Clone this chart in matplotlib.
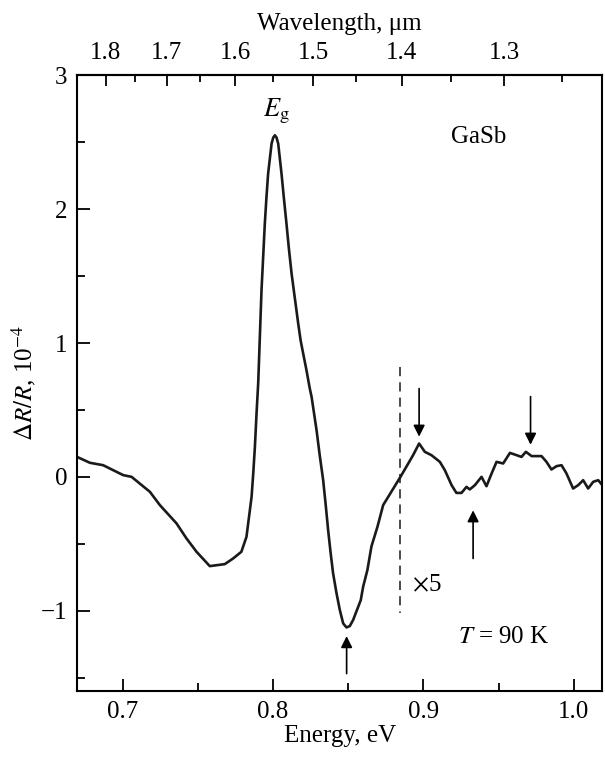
import matplotlib
matplotlib.use("Agg")
import matplotlib.pyplot as plt
from matplotlib.ticker import FixedLocator, MultipleLocator

plt.rcParams['font.family'] = ['Liberation Serif', 'DejaVu Serif']
plt.rcParams['mathtext.fontset'] = 'stix'

# photoreflectance spectrum
energy = [0.6705, 0.6783, 0.6871, 0.7004, 0.706, 0.7182, 0.7248, 0.7359, 0.7425,
          0.7492, 0.758, 0.768, 0.7735, 0.779, 0.7824, 0.7858, 0.7869, 0.7880,
          0.7891, 0.7902, 0.7924, 0.7935, 0.7946, 0.7957, 0.7968, 0.7991, 0.8002,
          0.8013, 0.8024, 0.8035, 0.8057, 0.8073, 0.809, 0.8106, 0.8124, 0.8146,
          0.8168, 0.8184, 0.8201, 0.8223, 0.8245, 0.8257, 0.829, 0.8311, 0.8334,
          0.8351, 0.8367, 0.8384, 0.84, 0.8423, 0.8445, 0.8467, 0.8489, 0.8511,
          0.8533, 0.8584, 0.86, 0.8628, 0.8655, 0.8695, 0.8733, 0.8794, 0.8848,
          0.8932, 0.8972, 0.901, 0.9054, 0.911, 0.9143, 0.9188, 0.922, 0.9254,
          0.9287, 0.9309, 0.9343, 0.9387, 0.942, 0.9454, 0.9487, 0.9531, 0.9576,
          0.962, 0.9653, 0.9682, 0.972, 0.9753, 0.9786, 0.9819, 0.9852, 0.9886,
          0.9919, 0.9952, 0.9996, 1.003, 1.0063, 1.0096, 1.013, 1.0163, 1.0196]
dR = [0.145, 0.105, 0.087, 0.013, 0.0, -0.112, -0.211, -0.348, -0.46,
      -0.56, -0.667, -0.652, -0.61, -0.56, -0.448, -0.149, 0.025, 0.224,
      0.474, 0.70, 1.394, 1.643, 1.892, 2.09, 2.266, 2.49, 2.535,
      2.552, 2.535, 2.49, 2.266, 2.08, 1.892, 1.706, 1.519, 1.332,
      1.146, 1.02, 0.922, 0.797, 0.66, 0.598, 0.349, 0.162, -0.025,
      -0.211, -0.398, -0.572, -0.721, -0.871, -0.996, -1.095, -1.125, -1.115,
      -1.07, -0.921, -0.82, -0.697, -0.52, -0.373, -0.211, -0.099, 0.0,
      0.162, 0.249, 0.187, 0.162, 0.112, 0.05, -0.062, -0.12, -0.12,
      -0.075, -0.094, -0.062, 0.0, -0.07, 0.025, 0.112, 0.1, 0.179,
      0.162, 0.149, 0.187, 0.155, 0.155, 0.155, 0.112, 0.055, 0.08,
      0.087, 0.025, -0.087, -0.062, -0.025, -0.087, -0.037, -0.025, -0.07]

# arrows: (energy, tail, tip)
arrows = [(0.849, -1.47, -1.19), (0.8972, 0.66, 0.30),
          (0.9331, -0.61, -0.25), (0.9713, 0.60, 0.24)]

wl_major = [1.8, 1.7, 1.6, 1.5, 1.4, 1.3]
wl_minor = [1.75, 1.65, 1.55, 1.45, 1.35, 1.25]

fs = 18

fig = plt.figure(figsize=(6.05, 7.61), dpi=100)
ax = fig.add_axes([0.128, 0.092, 0.867, 0.809])

ax.plot(energy, dR, color='#1a1a1a', lw=1.9, solid_joinstyle='round')
ax.plot([0.8848, 0.8848], [0.82, -1.02], color='#1a1a1a', lw=1.1, ls=(0, (6, 4)))

for e, y0, y1 in arrows:
    ax.annotate('', xy=(e, y1), xytext=(e, y0),
                arrowprops=dict(arrowstyle='-|>', color='black', lw=1.2,
                                mutation_scale=17, shrinkA=0, shrinkB=0))

ax.text(0.802, 2.69, r'$E_\mathrm{g}$', ha='center', va='baseline', fontsize=fs + 1)
ax.text(0.937, 2.54, 'GaSb', ha='center', va='center', fontsize=fs)
ax.text(0.8925, -0.81, r'$\times$5', ha='left', va='center', fontsize=fs)
ax.text(0.9535, -1.20, r'$T$ = 90 K', ha='center', va='center', fontsize=fs)

ax.set_xlim(0.67, 1.0188)
ax.set_ylim(-1.6, 3.0)
ax.xaxis.set_major_locator(FixedLocator([0.7, 0.8, 0.9, 1.0]))
ax.xaxis.set_minor_locator(MultipleLocator(0.05))
ax.yaxis.set_major_locator(MultipleLocator(1))
ax.yaxis.set_minor_locator(MultipleLocator(0.5))
ax.set_xticklabels(['0.7', '0.8', '0.9', '1.0'])
ax.tick_params(which='both', direction='in', labelsize=fs, width=1.3)
ax.tick_params(which='major', length=9, pad=7)
ax.tick_params(which='minor', length=5.5)
for s in ax.spines.values():
    s.set_linewidth(1.5)

ax.set_xlabel('Energy, eV', fontsize=fs, labelpad=2)
ax.set_ylabel(r'$\Delta R/R$, 10$^{-4}$', fontsize=fs, labelpad=2)

top = ax.secondary_xaxis('top', functions=(lambda e: 1.24 / e, lambda w: 1.24 / w))
top.xaxis.set_major_locator(FixedLocator(wl_major))
top.xaxis.set_minor_locator(FixedLocator(wl_minor))
top.set_xticklabels([f'{w:.1f}' for w in wl_major])
top.tick_params(which='both', direction='in', labelsize=fs, width=1.3)
top.tick_params(which='major', length=8, pad=8)
top.tick_params(which='minor', length=5)
top.spines['top'].set_linewidth(1.5)
top.set_xlabel('Wavelength, μm', fontsize=fs, labelpad=9)

fig.savefig('out.png', dpi=100)
